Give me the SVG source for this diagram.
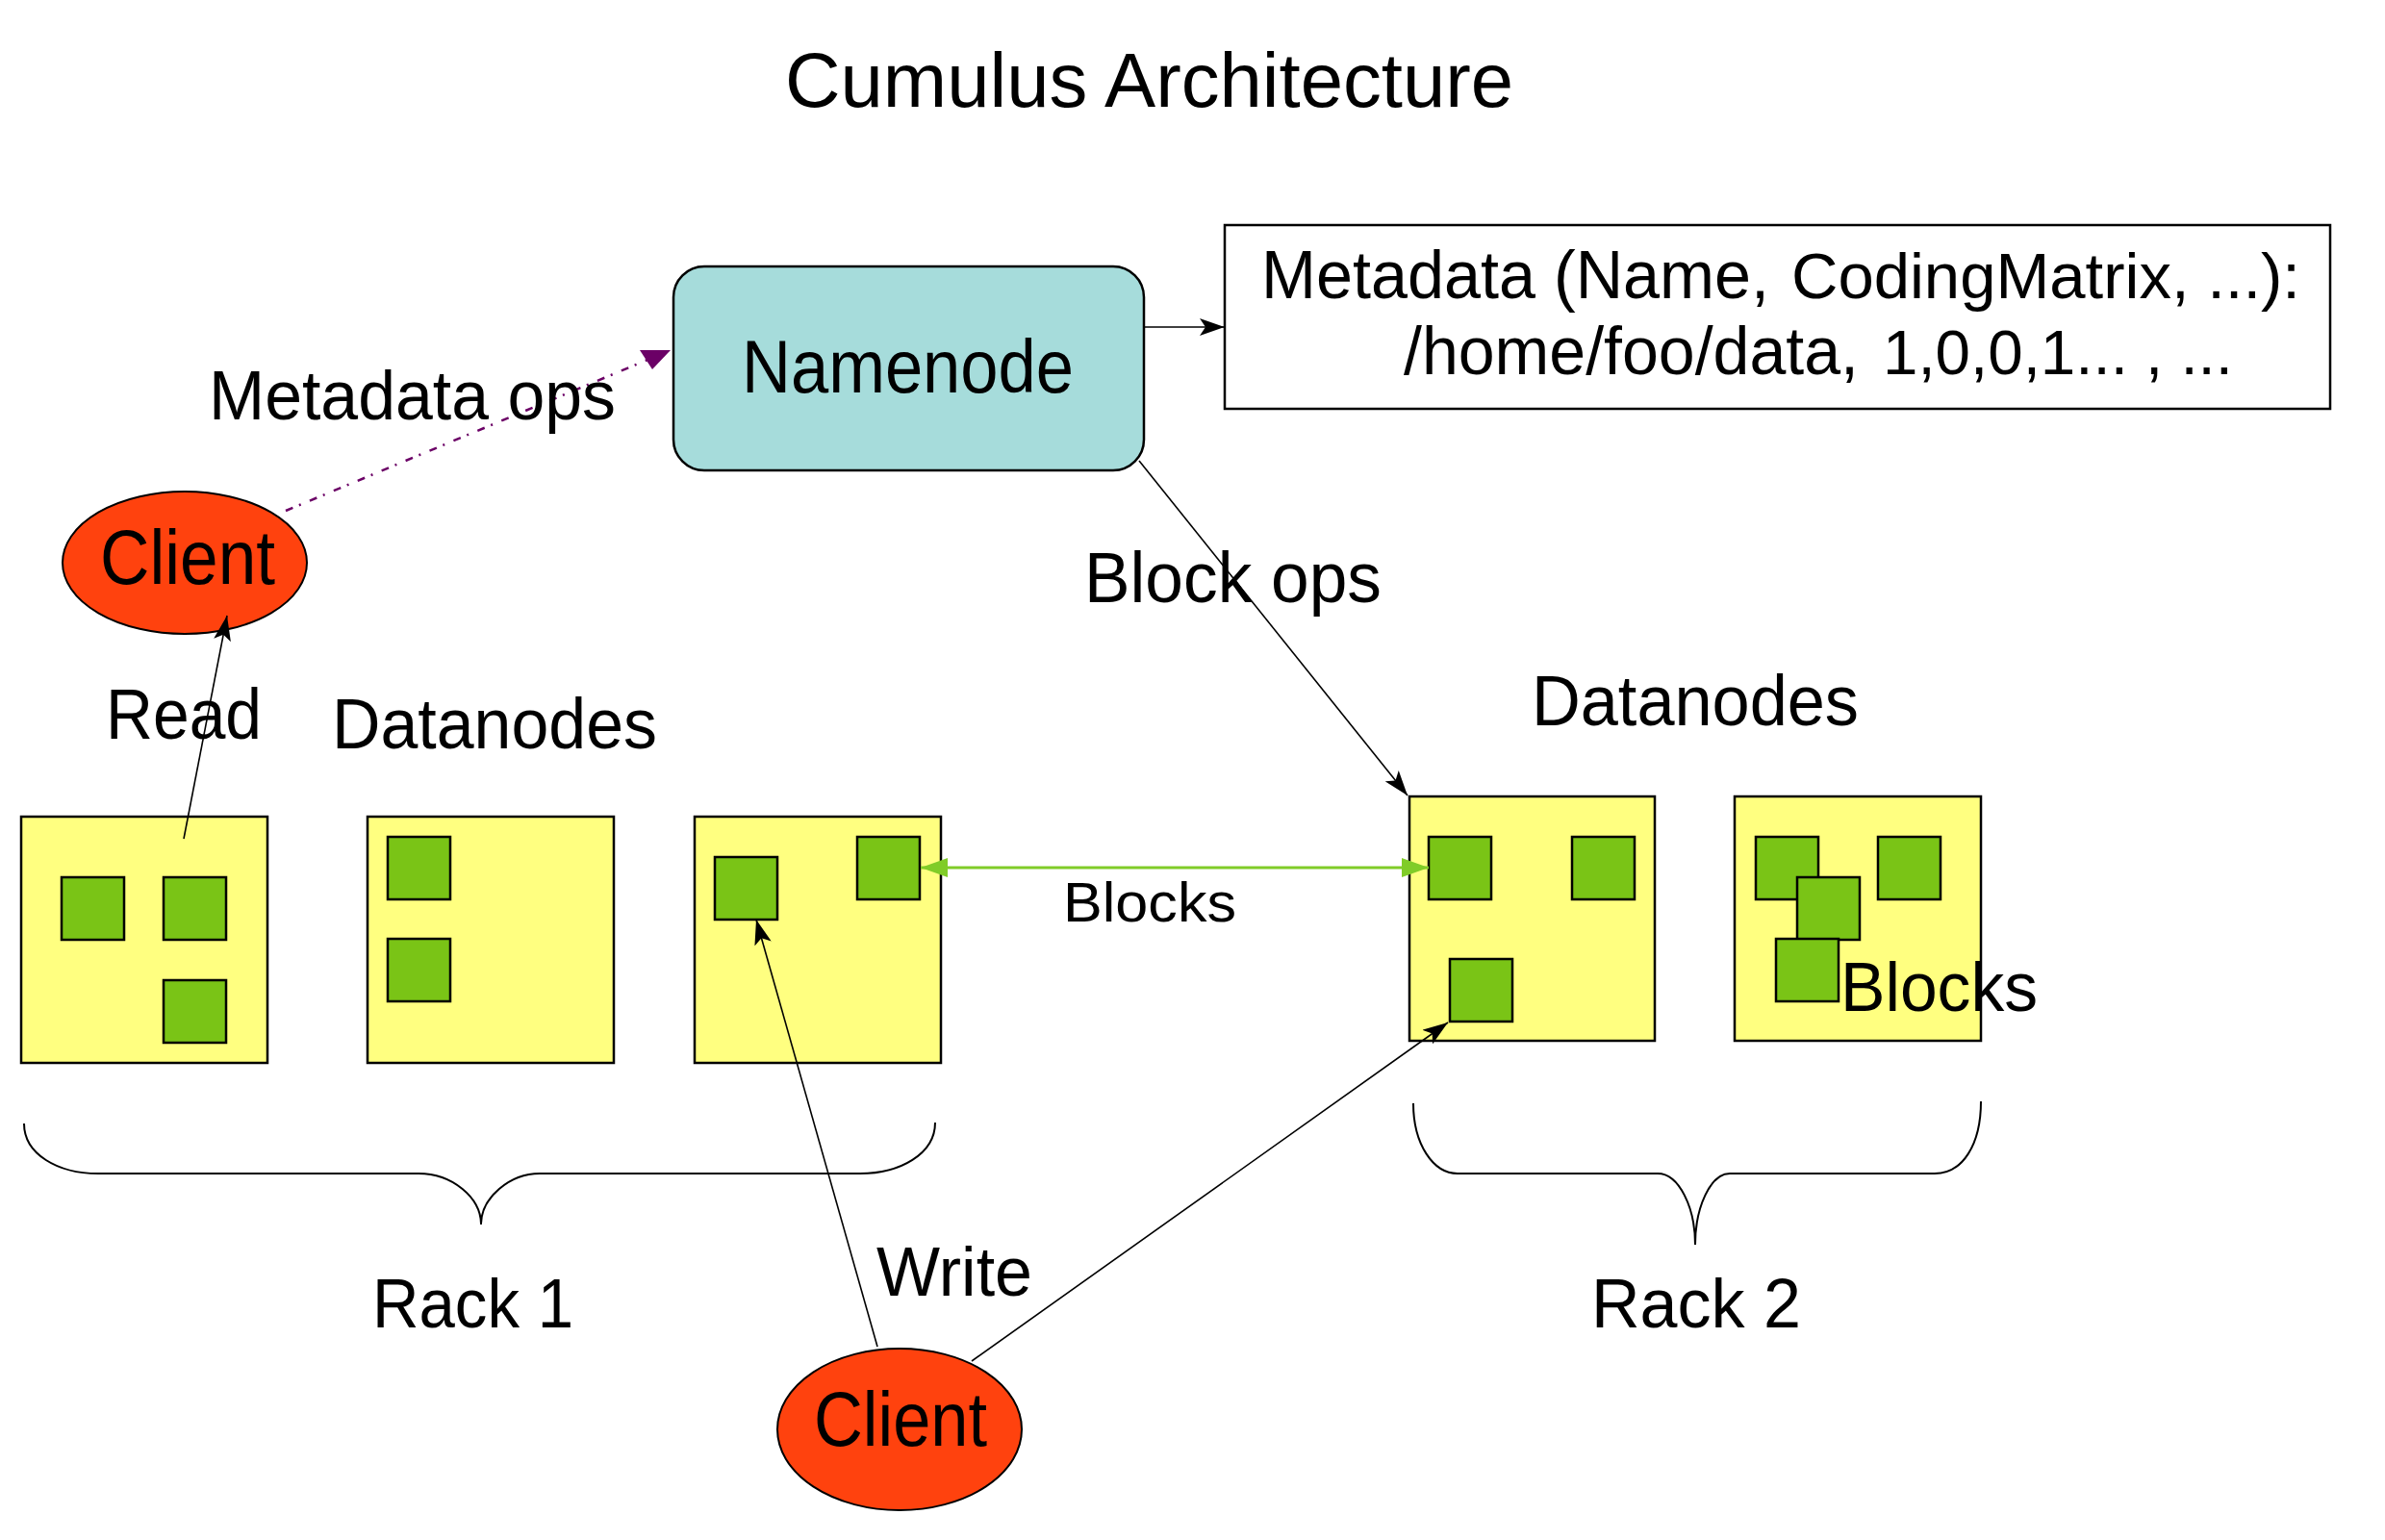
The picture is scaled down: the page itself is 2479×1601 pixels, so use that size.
<svg xmlns="http://www.w3.org/2000/svg" width="2479" height="1601" viewBox="0 0 2479 1601">
<defs>
<style>
text{font-family:"Liberation Sans",Arial,sans-serif;fill:#000}
.dn{fill:#FFFF80;stroke:#000;stroke-width:2.5}
.blk{fill:#7AC416;stroke:#000;stroke-width:2.5}
.cl{fill:#FF420E;stroke:#000;stroke-width:2}
.ln{fill:none;stroke:#000;stroke-width:1.6}
.br{fill:none;stroke:#000;stroke-width:2}
</style>
<marker id="ab" markerUnits="userSpaceOnUse" viewBox="0 0 26 18" refX="26" refY="9" markerWidth="26" markerHeight="18" orient="auto">
<path d="M0,0 L26,9 L0,18 L6,9 z" fill="#000"/>
</marker>
<marker id="ag" markerUnits="userSpaceOnUse" viewBox="0 0 28 20" refX="28" refY="10" markerWidth="28" markerHeight="20" orient="auto-start-reverse">
<path d="M0,0 L28,10 L0,20 z" fill="#80CC28"/>
</marker>
</defs>
<rect width="2479" height="1601" fill="#fff"/>

<g id="title"><text x="816" y="111" font-size="80" textLength="757" lengthAdjust="spacingAndGlyphs">Cumulus Architecture</text></g>

<g id="namenode">
<rect x="700" y="277" width="489" height="212" rx="32" ry="32" fill="#A6DCDB" stroke="#000" stroke-width="2.5"/>
<text x="771" y="408" font-size="78" textLength="345" lengthAdjust="spacingAndGlyphs">Namenode</text>
</g>

<g id="metadata">
<rect x="1273" y="234" width="1149" height="191" fill="#fff" stroke="#000" stroke-width="2.5"/>
<text><tspan x="1311" y="310" font-size="71" textLength="528" lengthAdjust="spacingAndGlyphs">Metadata (Name,</tspan><tspan x="1862" y="310" font-size="67" textLength="529" lengthAdjust="spacingAndGlyphs">CodingMatrix, ...):</tspan><tspan x="1459" y="389" font-size="71" textLength="473" lengthAdjust="spacingAndGlyphs">/home/foo/data,</tspan><tspan x="1957" y="389" font-size="65" textLength="364" lengthAdjust="spacingAndGlyphs">1,0,0,1... , ...</tspan></text>
</g>

<g id="client-read">
<ellipse class="cl" cx="192" cy="585" rx="127" ry="74"/>
<text x="104" y="607" font-size="80" textLength="182" lengthAdjust="spacingAndGlyphs">Client</text>
</g>

<g id="client-write">
<ellipse class="cl" cx="935" cy="1486" rx="127" ry="84"/>
<text x="846" y="1503" font-size="80" textLength="180" lengthAdjust="spacingAndGlyphs">Client</text>
</g>

<g id="rack1-dn1">
<rect class="dn" x="22" y="849" width="256" height="256"/>
<rect class="blk" x="64" y="912" width="65" height="65"/>
<rect class="blk" x="170" y="912" width="65" height="65"/>
<rect class="blk" x="170" y="1019" width="65" height="65"/>
</g>
<g id="rack1-dn2">
<rect class="dn" x="382" y="849" width="256" height="256"/>
<rect class="blk" x="403" y="870" width="65" height="65"/>
<rect class="blk" x="403" y="976" width="65" height="65"/>
</g>
<g id="rack1-dn3">
<rect class="dn" x="722" y="849" width="256" height="256"/>
<rect class="blk" x="743" y="891" width="65" height="65"/>
<rect class="blk" x="891" y="870" width="65" height="65"/>
</g>
<g id="rack2-dn1">
<rect class="dn" x="1465" y="828" width="255" height="254"/>
<rect class="blk" x="1485" y="870" width="65" height="65"/>
<rect class="blk" x="1634" y="870" width="65" height="65"/>
<rect class="blk" x="1507" y="997" width="65" height="65"/>
</g>
<g id="rack2-dn2">
<rect class="dn" x="1803" y="828" width="256" height="254"/>
<rect class="blk" x="1825" y="870" width="65" height="65"/>
<rect class="blk" x="1952" y="870" width="65" height="65"/>
<rect class="blk" x="1868" y="912" width="65" height="65"/>
<rect class="blk" x="1846" y="976" width="65" height="65"/>
</g>

<g id="rack1">
<path class="br" d="M25,1168 C25,1200 60,1220 102,1220 L435,1220 C470,1220 500,1245 500,1273 C500,1245 530,1220 561,1220 L894,1220 C935,1220 972,1200 972,1167"/>
<text x="387" y="1380" font-size="72" textLength="209" lengthAdjust="spacingAndGlyphs">Rack 1</text>
</g>
<g id="rack2">
<path class="br" d="M1469,1147 C1469,1190 1490,1220 1515,1220 L1723,1220 C1745,1220 1762,1255 1762,1294 C1762,1255 1778,1220 1798,1220 L2011,1220 C2040,1220 2059,1190 2059,1145"/>
<text x="1654" y="1380" font-size="72" textLength="218" lengthAdjust="spacingAndGlyphs">Rack 2</text>
</g>

<g id="labels">
<text x="345" y="778" font-size="74" textLength="338" lengthAdjust="spacingAndGlyphs">Datanodes</text>
<text x="1592" y="754" font-size="74" textLength="340" lengthAdjust="spacingAndGlyphs">Datanodes</text>
<text x="1913" y="1051" font-size="72" textLength="205" lengthAdjust="spacingAndGlyphs">Blocks</text>
</g>

<g id="connectors">
<path d="M297,531 L690,367" fill="none" stroke="#6B0066" stroke-width="2.5" stroke-dasharray="8 7 2 10"/>
<polygon points="665,364 697,364 678,384" fill="#6B0066"/>
<line class="ln" x1="1189" y1="340" x2="1273" y2="340" stroke-width="2.5" marker-end="url(#ab)"/>
<line class="ln" x1="1184" y1="479" x2="1463" y2="827" marker-end="url(#ab)"/>
<line class="ln" x1="191" y1="872" x2="236" y2="640" marker-end="url(#ab)"/>
<line class="ln" x1="912" y1="1400" x2="786" y2="956" marker-end="url(#ab)"/>
<line class="ln" x1="1010" y1="1415" x2="1505" y2="1063" marker-end="url(#ab)"/>
<line x1="957" y1="902" x2="1485" y2="902" stroke="#80CC28" stroke-width="3" marker-start="url(#ag)" marker-end="url(#ag)"/>
<text x="217" y="436" font-size="72" textLength="423" lengthAdjust="spacingAndGlyphs">Metadata ops</text>
<text x="110" y="768" font-size="74" textLength="162" lengthAdjust="spacingAndGlyphs">Read</text>
<text x="1127" y="626" font-size="74" textLength="309" lengthAdjust="spacingAndGlyphs">Block ops</text>
<text x="1105" y="958" font-size="58" textLength="180" lengthAdjust="spacingAndGlyphs">Blocks</text>
<text x="911" y="1347" font-size="72" textLength="162" lengthAdjust="spacingAndGlyphs">Write</text>
</g>
</svg>
